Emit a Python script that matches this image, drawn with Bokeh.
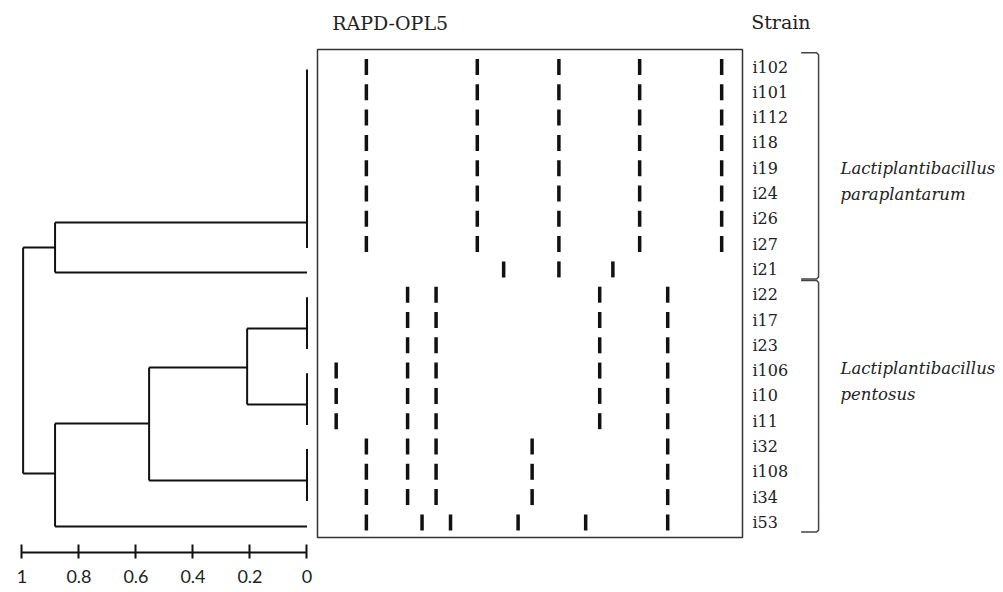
from bokeh.plotting import figure
from bokeh.layouts import row
from bokeh.models import Range1d, FixedTicker
from bokeh.core.properties import value
from bokeh.embed import file_html
from bokeh.resources import INLINE

# ---------------- data ----------------
strains = ["i102", "i101", "i112", "i18", "i19", "i24", "i26", "i27", "i21",
           "i22", "i17", "i23", "i106", "i10", "i11", "i32", "i108", "i34", "i53"]

# band positions along lane (0 = left of gel box, 100 = right)
prof_para = [11.5, 37.6, 56.8, 75.8, 95.1]
prof_i21 = [43.8, 56.8, 69.5]
prof_g1 = [21.2, 27.9, 66.4, 82.4]
prof_g2 = [4.4, 21.2, 27.9, 66.4, 82.4]
prof_g3 = [11.5, 21.2, 27.9, 50.5, 82.4]
prof_i53 = [11.5, 24.6, 31.3, 47.2, 63.1, 82.4]
band_profiles = [prof_para] * 8 + [prof_i21] + [prof_g1] * 3 + [prof_g2] * 3 + [prof_g3] * 3 + [prof_i53]

# dendrogram: leaf groups (identical profiles), rows and branch attach position
group_names = ["A", "B", "C", "D", "E", "F"]
group_first = [0, 8, 9, 12, 15, 18]
group_last = [7, 8, 11, 14, 17, 18]
group_attach = [6.15, 8.12, 10.34, 13.34, 16.34, 18.16]

merge_names = ["N1", "N2", "N3", "N4", "root"]
merge_left = ["A", "C", "N2", "N3", "N1"]
merge_right = ["B", "D", "E", "F", "N4"]
merge_height = [0.884, 0.21, 0.554, 0.884, 0.996]
merge_attach = [7.13, 11.88, 14.09, 16.07, None]

axis_ticks = [1, 0.8, 0.6, 0.4, 0.2, 0]
axis_labels = ["1", "0.8", "0.6", "0.4", "0.2", "0"]

species = [["Lactiplantibacillus", "paraplantarum"], ["Lactiplantibacillus", "pentosus"]]
species_first = [0, 9]
species_last = [8, 18]
species_label_row = [4.0, 11.9]

# ---------------- layout constants ----------------
ROW0_PX = 66.5     # figure px of row 0 centre
ROW_PX = 25.3      # px per row
H = 592
FRAME_H = 552
W1 = 313
W2 = 1000 - W1

def row_at(px):
    return (px - ROW0_PX) / ROW_PX

YR_START = row_at(FRAME_H)
YR_END = row_at(0)

# ---------------- dendrogram figure ----------------
p1 = figure(width=W1, height=H, output_backend="svg", toolbar_location=None,
            x_range=Range1d(1.0298, -0.0123),
            y_range=Range1d(YR_START, YR_END),
            min_border_left=13, min_border_right=3, min_border_top=0,
            min_border_bottom=H - FRAME_H)
p1.outline_line_color = None
p1.grid.visible = False
p1.yaxis.visible = False
p1.background_fill_color = "white"
p1.border_fill_color = "white"

heights = {n: 0.0 for n in group_names}
attach = dict(zip(group_names, group_attach))
for n, h, a in zip(merge_names, merge_height, merge_attach):
    heights[n] = h
    attach[n] = a

x0, y0, x1, y1 = [], [], [], []
for f, l in zip(group_first, group_last):
    if l > f:
        x0.append(0); x1.append(0); y0.append(f + 0.1); y1.append(l + 0.15)
for n, a, b in zip(merge_names, merge_left, merge_right):
    h = heights[n]
    for c in (a, b):
        x0.append(heights[c]); x1.append(h); y0.append(attach[c]); y1.append(attach[c])
    x0.append(h); x1.append(h); y0.append(attach[a]); y1.append(attach[b])

p1.segment(x0=x0, y0=y0, x1=x1, y1=y1, line_color="#111111", line_width=2)

ax = p1.xaxis[0]
ax.ticker = FixedTicker(ticks=axis_ticks)
ax.major_label_overrides = {t: s for t, s in zip(axis_ticks, axis_labels)}
ax.bounds = (0, 1)
ax.axis_line_width = 2
ax.axis_line_color = "#111111"
ax.major_tick_line_width = 2
ax.major_tick_line_color = "#111111"
ax.major_tick_in = 8
ax.major_tick_out = 6
ax.minor_tick_line_color = None
ax.major_label_standoff = 11
ax.major_label_text_font = "Lato"
ax.major_label_text_font_size = "18px"
ax.major_label_text_color = "#222222"

# ---------------- gel + labels figure ----------------
PX_PER_UNIT = 4.25
xs = -4 / PX_PER_UNIT
p2 = figure(width=W2, height=H, output_backend="svg", toolbar_location=None,
            x_range=Range1d(xs, xs + W2 / PX_PER_UNIT),
            y_range=Range1d(YR_START, YR_END),
            min_border_left=0, min_border_right=0, min_border_top=0,
            min_border_bottom=H - FRAME_H)
p2.axis.visible = False
p2.grid.visible = False
p2.outline_line_color = None
p2.background_fill_color = "white"
p2.border_fill_color = "white"

n = len(strains)
# gel box
p2.quad(left=[0], right=[100], top=[-0.69], bottom=[n - 1 + 0.6],
        fill_color=None, line_color="#333333", line_width=1.5)

bx, by = [], []
for i, prof in enumerate(band_profiles):
    for b in prof:
        bx.append(b); by.append(i)
p2.rect(x=bx, y=by, width=3.5, height=16, width_units="screen", height_units="screen",
        fill_color="#111111", line_color=None)

serif = value("DejaVu Serif")
p2.text(x=[102.35] * n, y=list(range(n)), text=strains, text_font=serif,
        text_font_size=value("16px"), text_baseline="middle", text_align="left",
        text_color="#222222")
p2.text(x=[3.46], y=[row_at(22.5)], text=["RAPD-OPL5"], text_font=serif,
        text_font_size=value("19px"), text_baseline="middle", text_align="left",
        text_color="#222222")
p2.text(x=[102.05], y=[row_at(21.7)], text=["Strain"], text_font=serif,
        text_font_size=value("19px"), text_baseline="middle", text_align="left",
        text_color="#222222")

# brackets
BX = 117.9
HOOK = 113.8
for f, l in zip(species_first, species_last):
    top = f - 0.56
    bot = l + 0.38
    p2.line(x=[HOOK, BX - 0.45, BX, BX, BX - 0.45, HOOK],
            y=[top, top, top + 0.08, bot - 0.08, bot, bot],
            line_color="#444444", line_width=1.5)

lx, ly, lt = [], [], []
for names, r in zip(species, species_label_row):
    for k, t in enumerate(names):
        lx.append(123.06); ly.append(r + k * 1.03); lt.append(t)
p2.text(x=lx, y=ly, text=lt, text_font=serif, text_font_style="italic",
        text_font_size=value("16.5px"), text_baseline="middle", text_align="left",
        text_color="#222222")

layout = row(p1, p2)
open("out.html", "w").write(file_html(layout, INLINE))
